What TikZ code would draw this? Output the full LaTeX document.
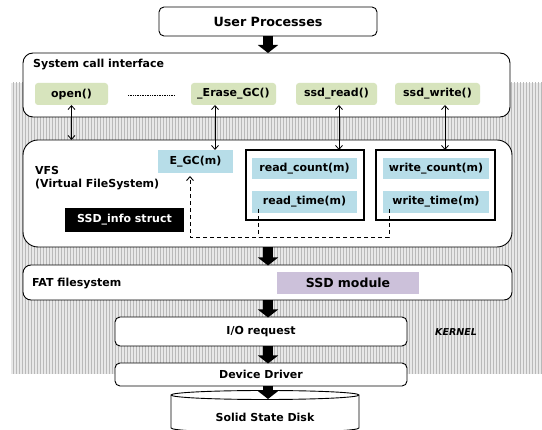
\documentclass[tikz,border=0pt]{standalone}
\usepackage{fontspec}
\setmainfont{DejaVu Sans}
\usetikzlibrary{arrows.meta,patterns,calc}
\definecolor{cgreen}{HTML}{D7E4BD}
\definecolor{cblue}{HTML}{B7DDE8}
\definecolor{cpurple}{HTML}{CCC1DA}
\pgfdeclarepatternformonly{finevlines}{\pgfqpoint{-1pt}{-1pt}}{\pgfqpoint{4pt}{4pt}}{\pgfqpoint{3pt}{3pt}}{%
  \pgfsetlinewidth{0.9pt}%
  \pgfpathmoveto{\pgfqpoint{1.5pt}{-0.5pt}}%
  \pgfpathlineto{\pgfqpoint{1.5pt}{3.5pt}}%
  \pgfusepath{stroke}}
\begin{document}
\begin{tikzpicture}[x=1pt,y=-1pt,
  txt/.style={font=\fontsize{11}{13}\selectfont\bfseries},
  box/.style={draw=black,line width=0.9pt,fill=white,inner sep=0pt,outer sep=0pt,txt},
  gbox/.style={fill=cgreen,rounded corners=3pt,inner sep=0pt,outer sep=0pt,txt},
  bbox/.style={fill=cblue,inner sep=0pt,outer sep=0pt,txt},
  grp/.style={draw=black,line width=1.8pt,inner sep=0pt,outer sep=0pt},
  fat/.style={line width=10pt,-{Triangle[width=20pt,length=8pt]}},
  thin/.style={line width=0.8pt,{Straight Barb[length=4pt,width=7pt]}-{Straight Barb[length=4pt,width=7pt]}},
  dash line/.style={line width=0.9pt,dash pattern=on 4pt off 3pt}
]
\useasboundingbox (0,0) rectangle (542,430);
% kernel background
\fill[gray!18] (11,83) rectangle (542,374);
\fill[pattern=finevlines,pattern color=gray!55] (11,83) rectangle (542,374);

% user processes
\node[box,rounded corners=5pt,minimum width=218pt,minimum height=29pt,font=\fontsize{12.7}{15}\selectfont\bfseries] (up) at (268,21.5) {User Processes};
% system call interface
\node[box,rounded corners=10pt,minimum width=487pt,minimum height=64pt] (sci) at (266.5,85) {};
\node[txt,anchor=west,inner sep=0pt] (scil) at (33,65) {System call interface};
\node[gbox,minimum width=73pt,minimum height=22pt] (open) at (71.5,94) {open()};
\node[gbox,minimum width=85pt,minimum height=22pt] (erase) at (233.5,94) {\_Erase\_GC()};
\node[gbox,minimum width=81pt,minimum height=22pt] (sread) at (336.5,94) {ssd\_read()};
\node[gbox,minimum width=85pt,minimum height=22pt] (swrite) at (437.5,94) {ssd\_write()};
\coordinate (d1) at (128,95);
\coordinate (d2) at (175,95);
\draw[line width=0.6pt,dash pattern=on 0.8pt off 0.9pt] (d1) -- (d2);

\draw[fat] (up.south) -- (up.south |- sci.north);

% VFS
\node[box,rounded corners=15pt,minimum width=489pt,minimum height=107pt] (vfs) at (267.5,193.5) {};
\node[txt,anchor=west,align=left,inner sep=0pt] (vfsl) at (35,178.5) {VFS\\(Virtual FileSystem)};
\node[bbox,minimum width=75pt,minimum height=23pt] (egc) at (195.5,161.5) {E\_GC(m)};
\node[grp,minimum width=118pt,minimum height=70pt] (rgrp) at (305,185) {};
\node[bbox,minimum width=105pt,minimum height=21pt] (rcount) at (304.5,168.5) {read\_count(m)};
\node[bbox,minimum width=105pt,minimum height=22pt] (rtime) at (304.5,202) {read\_time(m)};
\node[grp,minimum width=119pt,minimum height=70pt] (wgrp) at (435.5,185) {};
\node[bbox,minimum width=106pt,minimum height=21pt] (wcount) at (436,168.5) {write\_count(m)};
\node[bbox,minimum width=106pt,minimum height=22pt] (wtime) at (436,202) {write\_time(m)};
\node[fill=black,text=white,txt,inner sep=0pt,minimum width=119pt,minimum height=24pt] (info) at (124.5,220) {SSD\_info struct};

% thin arrows
\draw[thin] (open.south) -- (open.south |- vfs.north);
\draw[thin] (215,105) -- (215,150);
\draw[thin] (339,105) -- (339,150);
\draw[thin] (445,105) -- (445,150);

% dashed
\coordinate (r0) at (258,209);
\coordinate (r1) at (258,237);
\coordinate (w0) at (389,209);
\coordinate (w1) at (389,237);
\coordinate (e1) at (190,237);
\draw[dash line] (r0) -- (r1);
\draw[dash line,-{Straight Barb[length=4pt,width=7pt]}] (w0) -- (w1) -- (e1) -- ($(egc.south -| e1)+(0,3)$);

% FAT
\node[box,rounded corners=8pt,minimum width=489pt,minimum height=35pt] (fatfs) at (267.5,282.5) {};
\node[txt,anchor=west,inner sep=0pt] (fatl) at (32,284) {FAT filesystem};
\node[fill=cpurple,inner sep=0pt,minimum width=142pt,minimum height=22pt,font=\fontsize{12.5}{15}\selectfont\bfseries] (ssdm) at (348,283) {SSD module};
\draw[fat] (268,247) -- (268,265.5);

% IO
\node[box,rounded corners=5pt,minimum width=292pt,minimum height=29pt] (io) at (261,331.5) {I/O request};
\node[inner sep=0pt,font=\fontsize{9.5}{11}\selectfont\bfseries\itshape] (kern) at (456,332) {KERNEL};
\draw[fat] (268,300) -- (268,317.5);

% Device driver
\node[box,rounded corners=5pt,minimum width=292pt,minimum height=23pt] (dd) at (261,374.5) {Device Driver};
\draw[fat] (268,346) -- (268,363.5);

% SSD cylinder
\draw[line width=0.9pt,fill=white] (171,395) -- (171,428) arc[start angle=180,end angle=360,x radius=94,y radius=-4.5] -- (359,395) arc[start angle=0,end angle=180,x radius=94,y radius=-4.5] -- cycle;
\draw[line width=0.9pt] (171,395) arc[start angle=180,end angle=360,x radius=94,y radius=-4.5];
\node[txt,inner sep=0pt] (ssd) at (265,417) {Solid State Disk};
\draw[fat] (268,386) -- (268,399);
\end{tikzpicture}
\end{document}
